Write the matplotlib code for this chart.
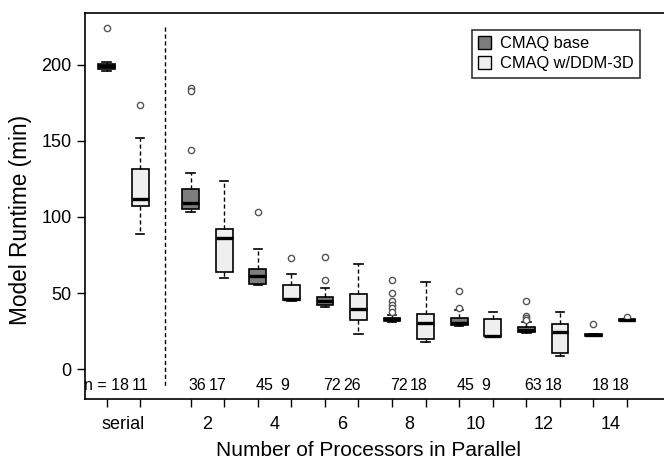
import matplotlib
matplotlib.use("Agg")
import matplotlib.pyplot as plt
from matplotlib.patches import Patch

plt.rcParams['font.family'] = ['Liberation Sans', 'DejaVu Sans']

groups = ['serial', '2', '4', '6', '8', '10', '12', '14']
series = ['CMAQ base', 'CMAQ w/DDM-3D']
counts_base = [18, 36, 45, 72, 72, 45, 63, 18]
counts_ddm = [11, 17, 9, 26, 18, 9, 18, 18]

# Box statistics
base_med = [199.0, 109.5, 61.5, 44.7, 32.6, 30.5, 26.0, 22.5]
base_q1 = [197.5, 105.0, 55.8, 42.0, 31.6, 28.8, 24.5, 22.0]
base_q3 = [200.3, 118.4, 65.6, 47.2, 33.8, 33.3, 27.4, 22.9]
base_lo = [196.0, 103.3, 55.0, 41.0, 31.0, 28.5, 24.0, 22.0]
base_hi = [201.8, 129.0, 79.0, 53.0, 35.5, 38.8, 31.1, 23.0]
base_out = [[224.5], [184.5, 183.0, 144.0], [103.0], [73.9, 58.6],
            [58.6, 49.8, 44.7, 42.0, 39.9, 37.7], [51.5, 40.3],
            [44.5, 34.9, 33.5, 32.5], [29.5]]

ddm_med = [111.5, 86.0, 46.0, 39.2, 30.5, 22.0, 24.5, 32.2]
ddm_q1 = [107.5, 63.5, 45.4, 32.2, 19.5, 22.0, 10.3, 31.6]
ddm_q3 = [131.6, 92.0, 55.3, 49.3, 36.0, 32.6, 29.4, 32.8]
ddm_lo = [88.6, 60.0, 45.0, 22.8, 18.0, 21.8, 8.5, 31.5]
ddm_hi = [152.2, 123.7, 62.3, 68.9, 57.0, 37.7, 37.3, 33.0]
ddm_out = [[173.7], [], [72.8], [], [], [], [], [34.4]]

colors = ['#7d7d7d', '#efefef']

fig = plt.figure(figsize=(6.64, 4.61), dpi=100)
ax = fig.add_axes([0.128, 0.1345, 0.872, 0.8375])

group_centers = [1.5] + [4.0 + 2 * (i - 1) for i in range(1, len(groups))]

for s, (med, q1, q3, lo, hi, out) in enumerate([
        (base_med, base_q1, base_q3, base_lo, base_hi, base_out),
        (ddm_med, ddm_q1, ddm_q3, ddm_lo, ddm_hi, ddm_out)]):
    stats = []
    pos = []
    for i in range(len(groups)):
        stats.append(dict(med=med[i], q1=q1[i], q3=q3[i], whislo=lo[i],
                          whishi=hi[i], fliers=out[i]))
        pos.append(group_centers[i] + (-0.5 if s == 0 else 0.5))
    ax.bxp(stats, positions=pos, widths=0.5, patch_artist=True,
           boxprops=dict(facecolor=colors[s], edgecolor='black', linewidth=1.2),
           whiskerprops=dict(color='black', linestyle=(0, (3, 2)), linewidth=1.0),
           capprops=dict(color='black', linewidth=1.2),
           medianprops=dict(color='black', linewidth=2.4),
           flierprops=dict(marker='o', markersize=4.5, markerfacecolor='white',
                           markeredgecolor='#555555', markeredgewidth=1.0),
           manage_ticks=False)

# vertical separator
ax.plot([2.75, 2.75], [225, -11], color='black', linestyle=(0, (3, 2)), linewidth=1.0)

# counts
for i in range(len(groups)):
    pb = group_centers[i] - 0.5
    pd = group_centers[i] + 0.5
    if i == 0:
        ax.text(pb, -11, 'n = %d' % counts_base[i], ha='center', va='center', fontsize=11.5)
        ax.text(pd, -11, '%d' % counts_ddm[i], ha='center', va='center', fontsize=11.5)
    else:
        ax.text(pb + 0.2, -11, '%d' % counts_base[i], ha='center', va='center', fontsize=11.5)
        ax.text(pd - 0.2, -11, '%d' % counts_ddm[i], ha='center', va='center', fontsize=11.5)

ax.set_xlim(0.354, 17.6)
ax.set_ylim(-19.7, 234.2)

box_positions = []
for c in group_centers:
    box_positions += [c - 0.5, c + 0.5]
ax.set_xticks(box_positions)
ax.set_xticklabels([])
ax.set_xticks(group_centers, minor=True)
ax.set_xticklabels(groups, minor=True, fontsize=13)
ax.tick_params(axis='x', which='major', direction='out', length=6, width=1)
ax.tick_params(axis='x', which='minor', length=0, pad=12)
ax.set_yticks([0, 50, 100, 150, 200])
ax.tick_params(axis='y', direction='out', length=6, width=1, labelsize=13)

for sp in ['left', 'bottom', 'top']:
    ax.spines[sp].set_linewidth(1.2)
ax.spines['right'].set_visible(False)

ax.set_xlabel('Number of Processors in Parallel', fontsize=15)
ax.xaxis.set_label_coords(0.4905, -0.108)
ax.set_ylabel('Model Runtime (min)', fontsize=16.3)
ax.yaxis.set_label_coords(-0.0915, 0.464)

handles = [Patch(facecolor=colors[0], edgecolor='black', label=series[0]),
           Patch(facecolor=colors[1], edgecolor='black', label=series[1])]
leg = ax.legend(handles=handles, loc='upper right', bbox_to_anchor=(0.958, 0.956),
                fontsize=11.8, frameon=True, fancybox=False, handlelength=0.8,
                handleheight=0.8, handletextpad=0.5, borderpad=0.4,
                labelspacing=0.3, edgecolor='black', borderaxespad=0)
leg.get_frame().set_linewidth(1.2)

fig.savefig('out.png', dpi=100)
